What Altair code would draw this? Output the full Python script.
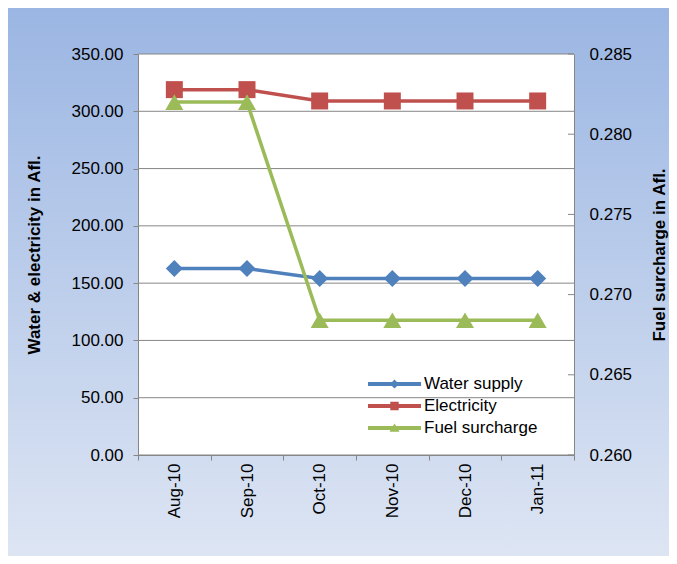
import altair as alt
import pandas as pd

months = ["Aug-10", "Sep-10", "Oct-10", "Nov-10", "Dec-10", "Jan-11"]
water = [162.8, 162.8, 154.1, 154.1, 154.1, 154.1]
electricity = [318.9, 318.9, 309.0, 309.0, 309.0, 309.0]
fuel = [0.2820, 0.2820, 0.2684, 0.2684, 0.2684, 0.2684]
left_ticks = [0, 50, 100, 150, 200, 250, 300, 350]
right_ticks = [0.260, 0.265, 0.270, 0.275, 0.280, 0.285]
series = ["Water supply", "Electricity", "Fuel surcharge"]
colors = ["#4F81BD", "#C0504D", "#9BBB59"]

W, H = 436, 401
FONT = "Liberation Sans"
GRAY = "#868686"
FS = 17

df_w = pd.DataFrame({"month": months, "value": water})
df_e = pd.DataFrame({"month": months, "value": electricity})
df_f = pd.DataFrame({"month": months, "fuel": fuel})
df_grid = pd.DataFrame({"value": left_ticks})
df_rt = pd.DataFrame({"fuel": right_ticks})
df_leg = pd.DataFrame({"month": months[:3], "series": series})

xenc = alt.X(
    "month:N", sort=months,
    scale=alt.Scale(type="band", paddingInner=0, paddingOuter=0),
    axis=alt.Axis(title=None, labelAngle=270, labelFontSize=FS, labelColor="black",
                  labelPadding=3, tickSize=5, tickColor=GRAY, domainColor=GRAY,
                  tickBand="extent", grid=False, zindex=1, labelFont=FONT),
)

left_scale = alt.Scale(domain=[0, 350], nice=False, zero=True)
left_axis = alt.Axis(orient="left", values=left_ticks, format=".2f", tickSize=5,
                     labelPadding=10, labelFontSize=FS, labelColor="black",
                     tickColor=GRAY, domainColor=GRAY, grid=False, zindex=1,
                     title="Water & electricity in Afl.", titleFontSize=FS,
                     titleFontWeight="bold", titleColor="black", titlePadding=28,
                     labelFont=FONT, titleFont=FONT)
yleft = alt.Y("value:Q", scale=left_scale, axis=left_axis)

right_scale = alt.Scale(domain=[0.26, 0.285], nice=False, zero=False)
right_axis = alt.Axis(orient="right", values=right_ticks, format=".3f", ticks=False,
                      labelPadding=15, labelFontSize=FS, labelColor="black",
                      domainColor=GRAY, grid=False, zindex=1,
                      title="Fuel surcharge in Afl.", titleFontSize=FS,
                      titleFontWeight="bold", titleColor="black", titlePadding=20,
                      titleAngle=270, titleBaseline="top",
                      labelFont=FONT, titleFont=FONT)
yright = alt.Y("fuel:Q", scale=right_scale, axis=right_axis)

grad = alt.LinearGradient(
    gradient="linear", x1=0, x2=0, y1=0, y2=1,
    stops=[alt.GradientStop(color="#9BB6E3", offset=0),
           alt.GradientStop(color="#DDE5F3", offset=1)],
)
bg = alt.Chart(alt.Data(values=[{}])).mark_rect(fill=grad, strokeWidth=0).encode(
    x=alt.value(-130), x2=alt.value(531), y=alt.value(-46), y2=alt.value(502)
)
plotbg = alt.Chart(alt.Data(values=[{}])).mark_rect(fill="white", strokeWidth=0).encode(
    x=alt.value(0), x2=alt.value(W), y=alt.value(0), y2=alt.value(H)
)
grid = alt.Chart(df_grid).mark_rule(color=GRAY, strokeWidth=1).encode(
    x=alt.value(0), x2=alt.value(W), y=yleft
)
rticks = alt.Chart(df_rt).mark_rule(color=GRAY, strokeWidth=1).encode(
    x=alt.value(W - 6), x2=alt.value(W), y=yright
)

w_line = alt.Chart(df_w).mark_line(color=colors[0], strokeWidth=3.5).encode(x=xenc, y=yleft)
w_pts = alt.Chart(df_w).mark_point(shape="diamond", filled=True, size=289, opacity=1,
                                   color=colors[0]).encode(x=xenc, y=yleft)
e_line = alt.Chart(df_e).mark_line(color=colors[1], strokeWidth=3.5).encode(x=xenc, y=yleft)
e_pts = alt.Chart(df_e).mark_point(shape="square", filled=True, size=289, opacity=1,
                                   color=colors[1]).encode(x=xenc, y=yleft)
f_line = alt.Chart(df_f).mark_line(color=colors[2], strokeWidth=3.5).encode(x=xenc, y=yright)
f_pts = alt.Chart(df_f).mark_point(shape="triangle-up", filled=True, size=324, opacity=1,
                                   color=colors[2]).encode(x=xenc, y=yright)

leg_shapes = [
    "M-2.65,-0.2L2.65,-0.2L2.65,0.2L-2.65,0.2Z M0,-0.45L0.45,0L0,0.45L-0.45,0Z",
    "M-2.65,-0.2L2.65,-0.2L2.65,0.2L-2.65,0.2Z M-0.42,-0.42L0.42,-0.42L0.42,0.42L-0.42,0.42Z",
    "M-2.65,-0.2L2.65,-0.2L2.65,0.2L-2.65,0.2Z M0,-0.45L0.5,0.38L-0.5,0.38Z",
]
leg = alt.Legend(title=None, orient="none", legendX=246.5, legendY=320, padding=0,
                 symbolSize=400, labelOffset=19.5, rowPadding=4, labelFontSize=FS,
                 labelColor="black", symbolStrokeWidth=0, symbolOpacity=1,
                 labelFont=FONT, zindex=1)
legend_layer = alt.Chart(df_leg).mark_point(filled=True, opacity=0).encode(
    x=xenc,
    color=alt.Color("series:N", scale=alt.Scale(domain=series, range=colors), legend=leg),
    shape=alt.Shape("series:N", scale=alt.Scale(domain=series, range=leg_shapes), legend=leg),
)

left_group = alt.layer(bg, plotbg, grid, w_line, e_line, w_pts, e_pts)
right_group = alt.layer(rticks, f_line, f_pts, legend_layer)

chart = alt.layer(left_group, right_group).resolve_scale(y="independent").properties(
    width=W, height=H, padding=0
).configure_view(stroke=None).configure(font=FONT)

chart.save("out.html", embed_options={"renderer": "svg", "actions": False})
